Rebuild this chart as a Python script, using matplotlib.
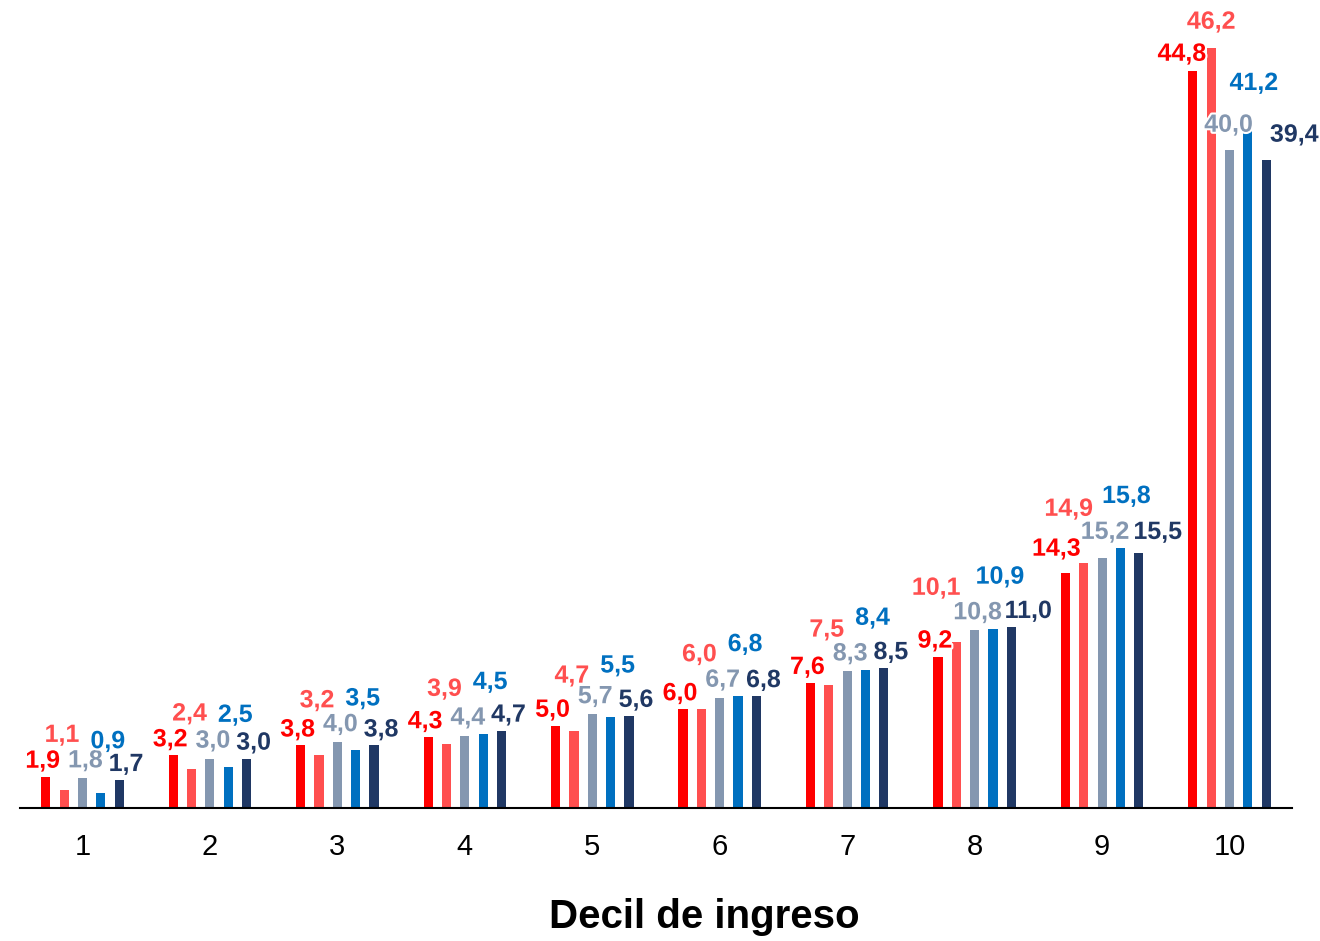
import matplotlib.pyplot as plt
import matplotlib.patheffects as pe
import numpy as np

plt.rcParams['font.family'] = ['Liberation Sans', 'DejaVu Sans']

deciles = ['1', '2', '3', '4', '5', '6', '7', '8', '9', '10']

serie_1 = [1.9, 3.2, 3.8, 4.3, 5.0, 6.0, 7.6, 9.2, 14.3, 44.8]
serie_2 = [1.1, 2.4, 3.2, 3.9, 4.7, 6.0, 7.5, 10.1, 14.9, 46.2]
serie_3 = [1.8, 3.0, 4.0, 4.4, 5.7, 6.7, 8.3, 10.8, 15.2, 40.0]
serie_4 = [0.9, 2.5, 3.5, 4.5, 5.5, 6.8, 8.4, 10.9, 15.8, 41.2]
serie_5 = [1.7, 3.0, 3.8, 4.7, 5.6, 6.8, 8.5, 11.0, 15.5, 39.4]

series = [serie_1, serie_2, serie_3, serie_4, serie_5]
colors = ['#FF0000', '#FF4F4F', '#8497B0', '#0070C0', '#203864']

# label offsets (pixels) from the top of each bar: (dx, dy)
offsets = [(-3, 16), (-2, 55), (3, 18), (7, 52), (7, 16)]
# wider labels in the upper deciles are shifted by hand: (serie, decile) -> (dx, dy)
moved = {
    (1, 7): (-20, 54), (4, 7): (17, 16),
    (0, 8): (-9, 24), (1, 8): (-15, 54), (2, 8): (3, 26), (3, 8): (6, 52), (4, 8): (19, 21),
    (0, 9): (-11, 17), (1, 9): (0, 26), (2, 9): (-1, 25), (3, 9): (6, 47), (4, 9): (28, 25),
}

fig = plt.figure(figsize=(13.2, 9.41), dpi=100)
ax = fig.add_axes([20 / 1320, 133 / 941, 1272 / 1320, 808 / 941])

x = np.arange(len(deciles))
step = 0.144
width = 0.072
px2pt = 72 / 100

for i, (vals, col) in enumerate(zip(series, colors)):
    pos = x + (i - 2) * step
    ax.bar(pos, vals, width=width, color=col)
    for j, (p, v) in enumerate(zip(pos, vals)):
        dx, dy = moved.get((i, j), offsets[i])
        ax.annotate(f'{v:.1f}'.replace('.', ','), (p, v),
                    xytext=(dx * px2pt, dy * px2pt), textcoords='offset points',
                    ha='center', va='center', fontsize=18, fontweight='bold',
                    color=col,
                    path_effects=[pe.withStroke(linewidth=3, foreground='white')])

ax.set_xlim(-0.49, 9.49)
ax.set_ylim(0, 49.1)
ax.set_xticks(x)
ax.set_xticklabels(deciles, fontsize=21)
ax.tick_params(axis='x', length=0, pad=18)
ax.set_yticks([])
for s in ['top', 'left', 'right']:
    ax.spines[s].set_visible(False)
ax.spines['bottom'].set_linewidth(1.5)

ax.set_xlabel('Decil de ingreso', fontsize=29, fontweight='bold')
ax.xaxis.set_label_coords((704 - 20) / 1272, -(917 - 808) / 808)
ax.xaxis.label.set_va('center')

fig.savefig('out.png', dpi=100)
